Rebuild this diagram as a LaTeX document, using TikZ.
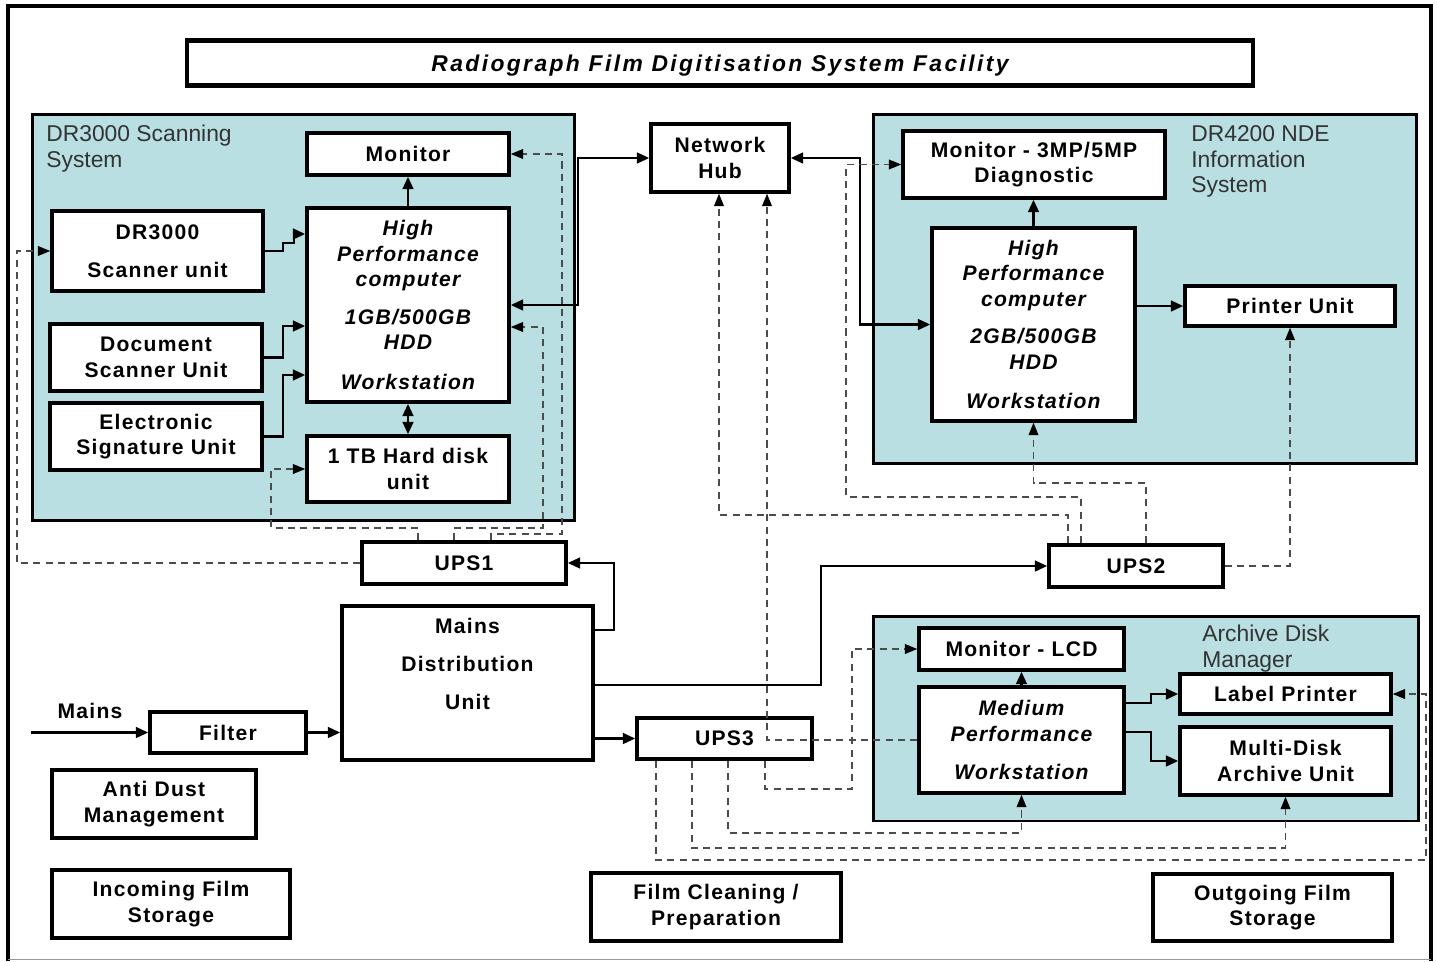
\documentclass[tikz,border=0pt]{standalone}
\usepackage{fontspec}
\setmainfont{Liberation Sans}
\newfontfamily\boxfont{Liberation Sans}[LetterSpace=6]
\newfontfamily\titlefont{Liberation Sans}[LetterSpace=10.5]
\usepackage{tikz}
\usetikzlibrary{arrows.meta,positioning,calc}
\definecolor{panelblue}{RGB}{185,223,226}
\newcommand{\boxtext}{\boxfont\bfseries\fontsize{12}{14.5}\selectfont}

\begin{document}
\begin{tikzpicture}[
  x=0.02cm, y=-0.02cm,
  box/.style={draw, line width=2pt, fill=white, align=center, inner sep=0pt, font=\boxtext},
  boxit/.style={box, font=\boxtext\itshape},
  panel/.style={draw, line width=1.7pt, fill=panelblue, inner sep=0pt},
  panellbl/.style={anchor=north west, align=left, inner sep=0pt, text=black!80, font=\fontsize{13}{14.7}\selectfont},
  arr/.style={-{Triangle[length=7pt,width=6pt]}, line width=1.5pt},
  darr/.style={{Triangle[length=7pt,width=6pt]}-{Triangle[length=7pt,width=6pt]}, line width=1.5pt},
  pwr/.style={-{Triangle[length=7pt,width=5.5pt,color=black]}, line width=0.8pt, draw=black!70, dash pattern=on 4pt off 3pt}
]
  \useasboundingbox (0,0) rectangle (1437,961);
  \draw[line width=2.3pt] (8,961) |- (1431,6) -- (1431,961);
  \draw[black!40, line width=0.6pt] (8,959.5) -- (1431,959.5);

  \node[box, line width=2.3pt, minimum width=21.32cm, minimum height=0.9cm, text depth=0pt, font=\titlefont\bfseries\itshape\fontsize{13}{15}\selectfont] (title) at (720,63) {Radiograph Film Digitisation System Facility};

  \node[panel, minimum width=10.86cm, minimum height=8.14cm] (scanSys) at (303.5,317.5) {};
  \node[panellbl] (scanSysLbl) at (46,125) {DR3000 Scanning\\System};
  \node[panel, minimum width=10.88cm, minimum height=7cm] (nde) at (1145,289) {};
  \node[panellbl] (ndeLbl) at (1191,125) {DR4200 NDE\\Information\\System};
  \node[panel, minimum width=10.92cm, minimum height=4.1cm] (arch) at (1146,718.5) {};
  \node[panellbl] (archLbl) at (1202,625) {Archive Disk\\Manager};

  \node[box, minimum width=4.04cm, minimum height=0.84cm] (monA) at (408,154) {Monitor};
  \node[boxit, minimum width=4.04cm, minimum height=3.88cm] (hpcA) at (408,305) {High\\Performance\\computer\\[7pt]1GB/500GB\\HDD\\[8pt]Workstation};
  \node[box, minimum width=4.22cm, minimum height=1.6cm] (scanA) at (157.5,251) {DR3000\\[7pt]Scanner unit};
  \node[box, minimum width=4.24cm, minimum height=1.34cm] (docA) at (156,357.5) {Document\\Scanner Unit};
  \node[box, minimum width=4.24cm, minimum height=1.34cm] (sigA) at (156,436.5) {Electronic\\Signature Unit};
  \node[box, minimum width=4.04cm, minimum height=1.32cm] (hddA) at (408,469) {1 TB Hard disk\\unit};

  \node[box, minimum width=2.76cm, minimum height=1.36cm] (hub) at (720,158) {Network\\Hub};

  \node[box, minimum width=5.24cm, minimum height=1.34cm] (monB) at (1034,164.5) {Monitor - 3MP/5MP\\Diagnostic};
  \node[boxit, minimum width=4.06cm, minimum height=3.86cm] (hpcB) at (1033.5,324.5) {High\\Performance\\computer\\[7pt]2GB/500GB\\HDD\\[8pt]Workstation};
  \node[box, minimum width=4.2cm, minimum height=0.8cm] (prn) at (1290,306) {Printer Unit};

  \node[box, minimum width=4.08cm, minimum height=0.84cm] (ups1) at (464,563) {UPS1};
  \node[box, minimum width=3.48cm, minimum height=0.84cm] (ups2) at (1136,566) {UPS2};
  \node[box, minimum width=3.5cm, minimum height=0.82cm] (ups3) at (724.5,738.5) {UPS3};
  \node[box, minimum width=5.02cm, minimum height=3.08cm] (mdu) at (467.5,683) {Mains\\[7pt]Distribution\\[7pt]Unit\\[7pt]\mbox{}};
  \node[box, minimum width=3.12cm, minimum height=0.82cm] (filter) at (228,732.5) {Filter};
  \node[font=\boxtext, inner sep=0pt] (mainsLbl) at (90,711) {Mains};
  \coordinate (mainsIn) at (31,732.5);

  \node[box, minimum width=4.1cm, minimum height=0.84cm] (monC) at (1021.5,649) {Monitor - LCD};
  \node[boxit, minimum width=4.1cm, minimum height=2.12cm] (mpw) at (1021.5,740) {Medium\\Performance\\[7pt]Workstation};
  \node[box, minimum width=4.22cm, minimum height=0.8cm] (lblPrn) at (1285.5,694) {Label Printer};
  \node[box, minimum width=4.22cm, minimum height=1.36cm] (mda) at (1285.5,761) {Multi-Disk\\Archive Unit};

  \node[box, minimum width=4.08cm, minimum height=1.36cm] (dust) at (154,804) {Anti Dust\\Management};
  \node[box, minimum width=4.76cm, minimum height=1.36cm] (inFilm) at (171,904) {Incoming Film\\Storage};
  \node[box, minimum width=5cm, minimum height=1.36cm] (clean) at (716,907) {Film Cleaning /\\Preparation};
  \node[box, minimum width=4.78cm, minimum height=1.34cm] (outFilm) at (1272.5,907.5) {Outgoing Film\\Storage};

  \draw[arr] (hpcA) -- (monA);
  \draw[darr] (hpcA) -- (hddA);
  \draw[arr] (scanA.east) -| (283,243) -| (294,234) -- (hpcA.west |- 0,234);
  \draw[arr] (docA.east) -| (283,326) -- (hpcA.west |- 0,326);
  \draw[arr] (sigA.east) -| (283,375) -- (hpcA.west |- 0,375);
  \draw[darr] (hpcA.east) -| (578,158) -- (hub.west);
  \draw[darr] (hub.east) -| (860,324.5) -- (hpcB.west);
  \draw[arr] (hpcB.north) -- (hpcB.north |- monB.south);
  \draw[arr] (hpcB.east |- prn) -- (prn.west);
  \draw[arr] (mainsIn) -- (filter.west);
  \draw[arr] (filter.east) -- (mdu.west |- filter.east);
  \draw[arr] (mdu.east |- 0,630) -| (614,563) -- (ups1.east);
  \draw[arr] (mdu.east |- 0,685) -| (821,566) -- (ups2.west);
  \draw[arr] (mdu.east |- ups3.west) -- (ups3.west);
  \draw[arr] (mpw) -- (monC);
  \draw[arr] (mpw.east |- 0,703) -| (1151,694) -- (lblPrn.west);
  \draw[arr] (mpw.east |- 0,732) -| (1151,761) -- (mda.west);

  \draw[pwr] (ups1.west) -| (17,251) -- (scanA.west);
  \draw[pwr] (418,0 |- ups1.north) |- (271,528) |- (hddA.west);
  \draw[pwr] (454,0 |- ups1.north) |- (543,528) |- (hpcA.east |- 0,327);
  \draw[pwr] (491,0 |- ups1.north) |- (562,534) |- (monA.east);

  \draw[pwr] (1068,0 |- ups2.north) |- (719,515) -- (719,0 |- hub.south);
  \draw[pwr] (1081,0 |- ups2.north) |- (846,497) |- (monB.west);
  \draw[pwr] (1146,0 |- ups2.north) |- (hpcB.south |- 0,483) -- (hpcB.south);
  \draw[pwr] (ups2.east) -| (prn.south);

  \draw[pwr] (mpw.west) -| (767,0 |- hub.south);

  \draw[pwr] (765,0 |- ups3.south) |- (852,789) |- (monC.west);
  \draw[pwr] (728,0 |- ups3.south) |- (mpw.south |- 0,833) -- (mpw.south);
  \draw[pwr] (692,0 |- ups3.south) |- (mda.south |- 0,848) -- (mda.south);
  \draw[pwr] (656,0 |- ups3.south) |- (1426,860) |- (lblPrn.east);
\end{tikzpicture}
\end{document}
